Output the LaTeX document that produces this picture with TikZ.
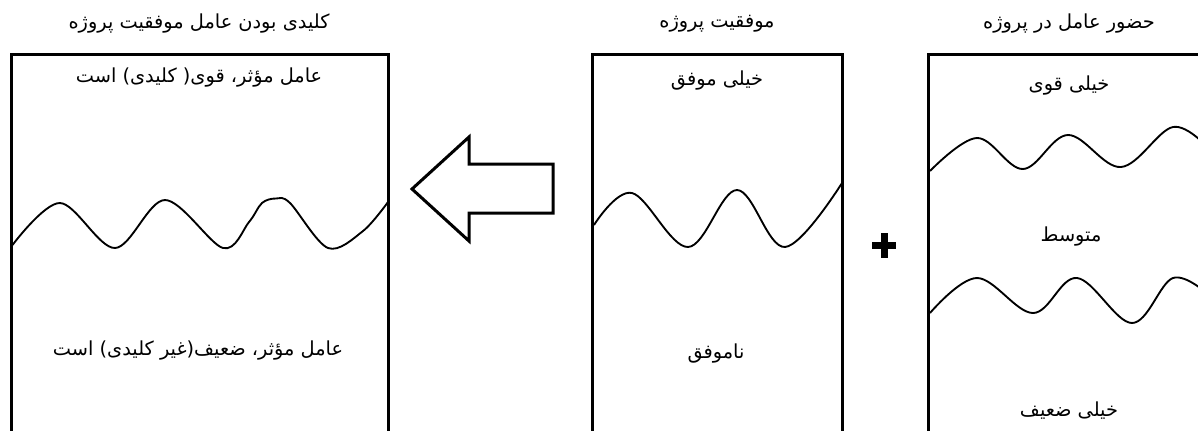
\documentclass[tikz,border=0pt]{standalone}
\usepackage{fontspec}
\TeXXeTstate=1
\newfontfamily\arabicfont[Script=Arabic]{DejaVu Sans}
\begin{document}
\begin{tikzpicture}[x=0.75pt,y=-0.75pt,
  boxline/.style={line width=2.25pt},
  wave/.style={line width=1.4pt, line join=round},
  lbl/.style={font=\arabicfont\fontsize{14.5}{17}\selectfont, inner sep=0pt, anchor=center},
  arrowshape/.style={line width=2.25pt, line join=miter},
  plussign/.style={fill=black}]
\useasboundingbox (0,0) rectangle (1198,430);
\clip (0,0) rectangle (1198,430);
% boxes (open at the bottom)
\draw[boxline] (11.5,440) -- (11.5,54.5) -- (388.5,54.5) -- (388.5,440);
\draw[boxline] (592,440) -- (592,54.5) -- (842,54.5) -- (842,440);
\draw[boxline] (928,440) -- (928,54.5) -- (1215,54.5) -- (1215,440);
% titles
\node[lbl] (t1) at (199,24) {\beginR کلیدی بودن عامل موفقیت پروژه\endR};
\node[lbl] (t2) at (717,24) {\beginR موفقیت پروژه\endR};
\node[lbl] (t3) at (1069,24) {\beginR حضور عامل در پروژه\endR};
% box 1 texts
\node[lbl] (a1) at (199,78) {\beginR عامل مؤثر، قوی( کلیدی) است\endR};
\node[lbl] (a2) at (198,351) {\beginR عامل مؤثر، ضعیف(غیر کلیدی) است\endR};
% box 2 texts
\node[lbl] (b1) at (717,81) {\beginR خیلی موفق\endR};
\node[lbl] (b2) at (716,354) {\beginR ناموفق\endR};
% box 3 texts
\node[lbl] (c1) at (1069,86) {\beginR خیلی قوی\endR};
\node[lbl] (c2) at (1071,237) {\beginR متوسط\endR};
\node[lbl] (c3) at (1069,411) {\beginR خیلی ضعیف\endR};
% waves
\draw[wave] plot[smooth, tension=0.55] coordinates {(12.5,245) (60,203) (115,248) (165,200) (223,248) (249,222) (262,203) (276,198.5) (290,203) (328,248) (363,231) (388,202)};
\draw[wave] plot[smooth, tension=0.6] coordinates {(594,225) (632,193) (688,247) (737,190) (785,247) (842,183)};
\draw[wave] plot[smooth, tension=0.6] coordinates {(930,171) (977,138) (1023,169) (1068,135) (1121,167) (1173,127) (1210,150)};
\draw[wave] plot[smooth, tension=0.6] coordinates {(930,313) (977,278) (1033,313) (1077,278) (1132,323) (1173,278) (1210,296)};
% big hollow arrow
\draw[arrowshape] (412,189) -- (469,137) -- (469,164) -- (553,164) -- (553,213) -- (469,213) -- (469,241) -- cycle;
% plus sign
\fill[plussign] (872,241.5) rectangle (896,248.5);
\fill[plussign] (880.5,232.5) rectangle (887.5,257.5);
\end{tikzpicture}
\end{document}
